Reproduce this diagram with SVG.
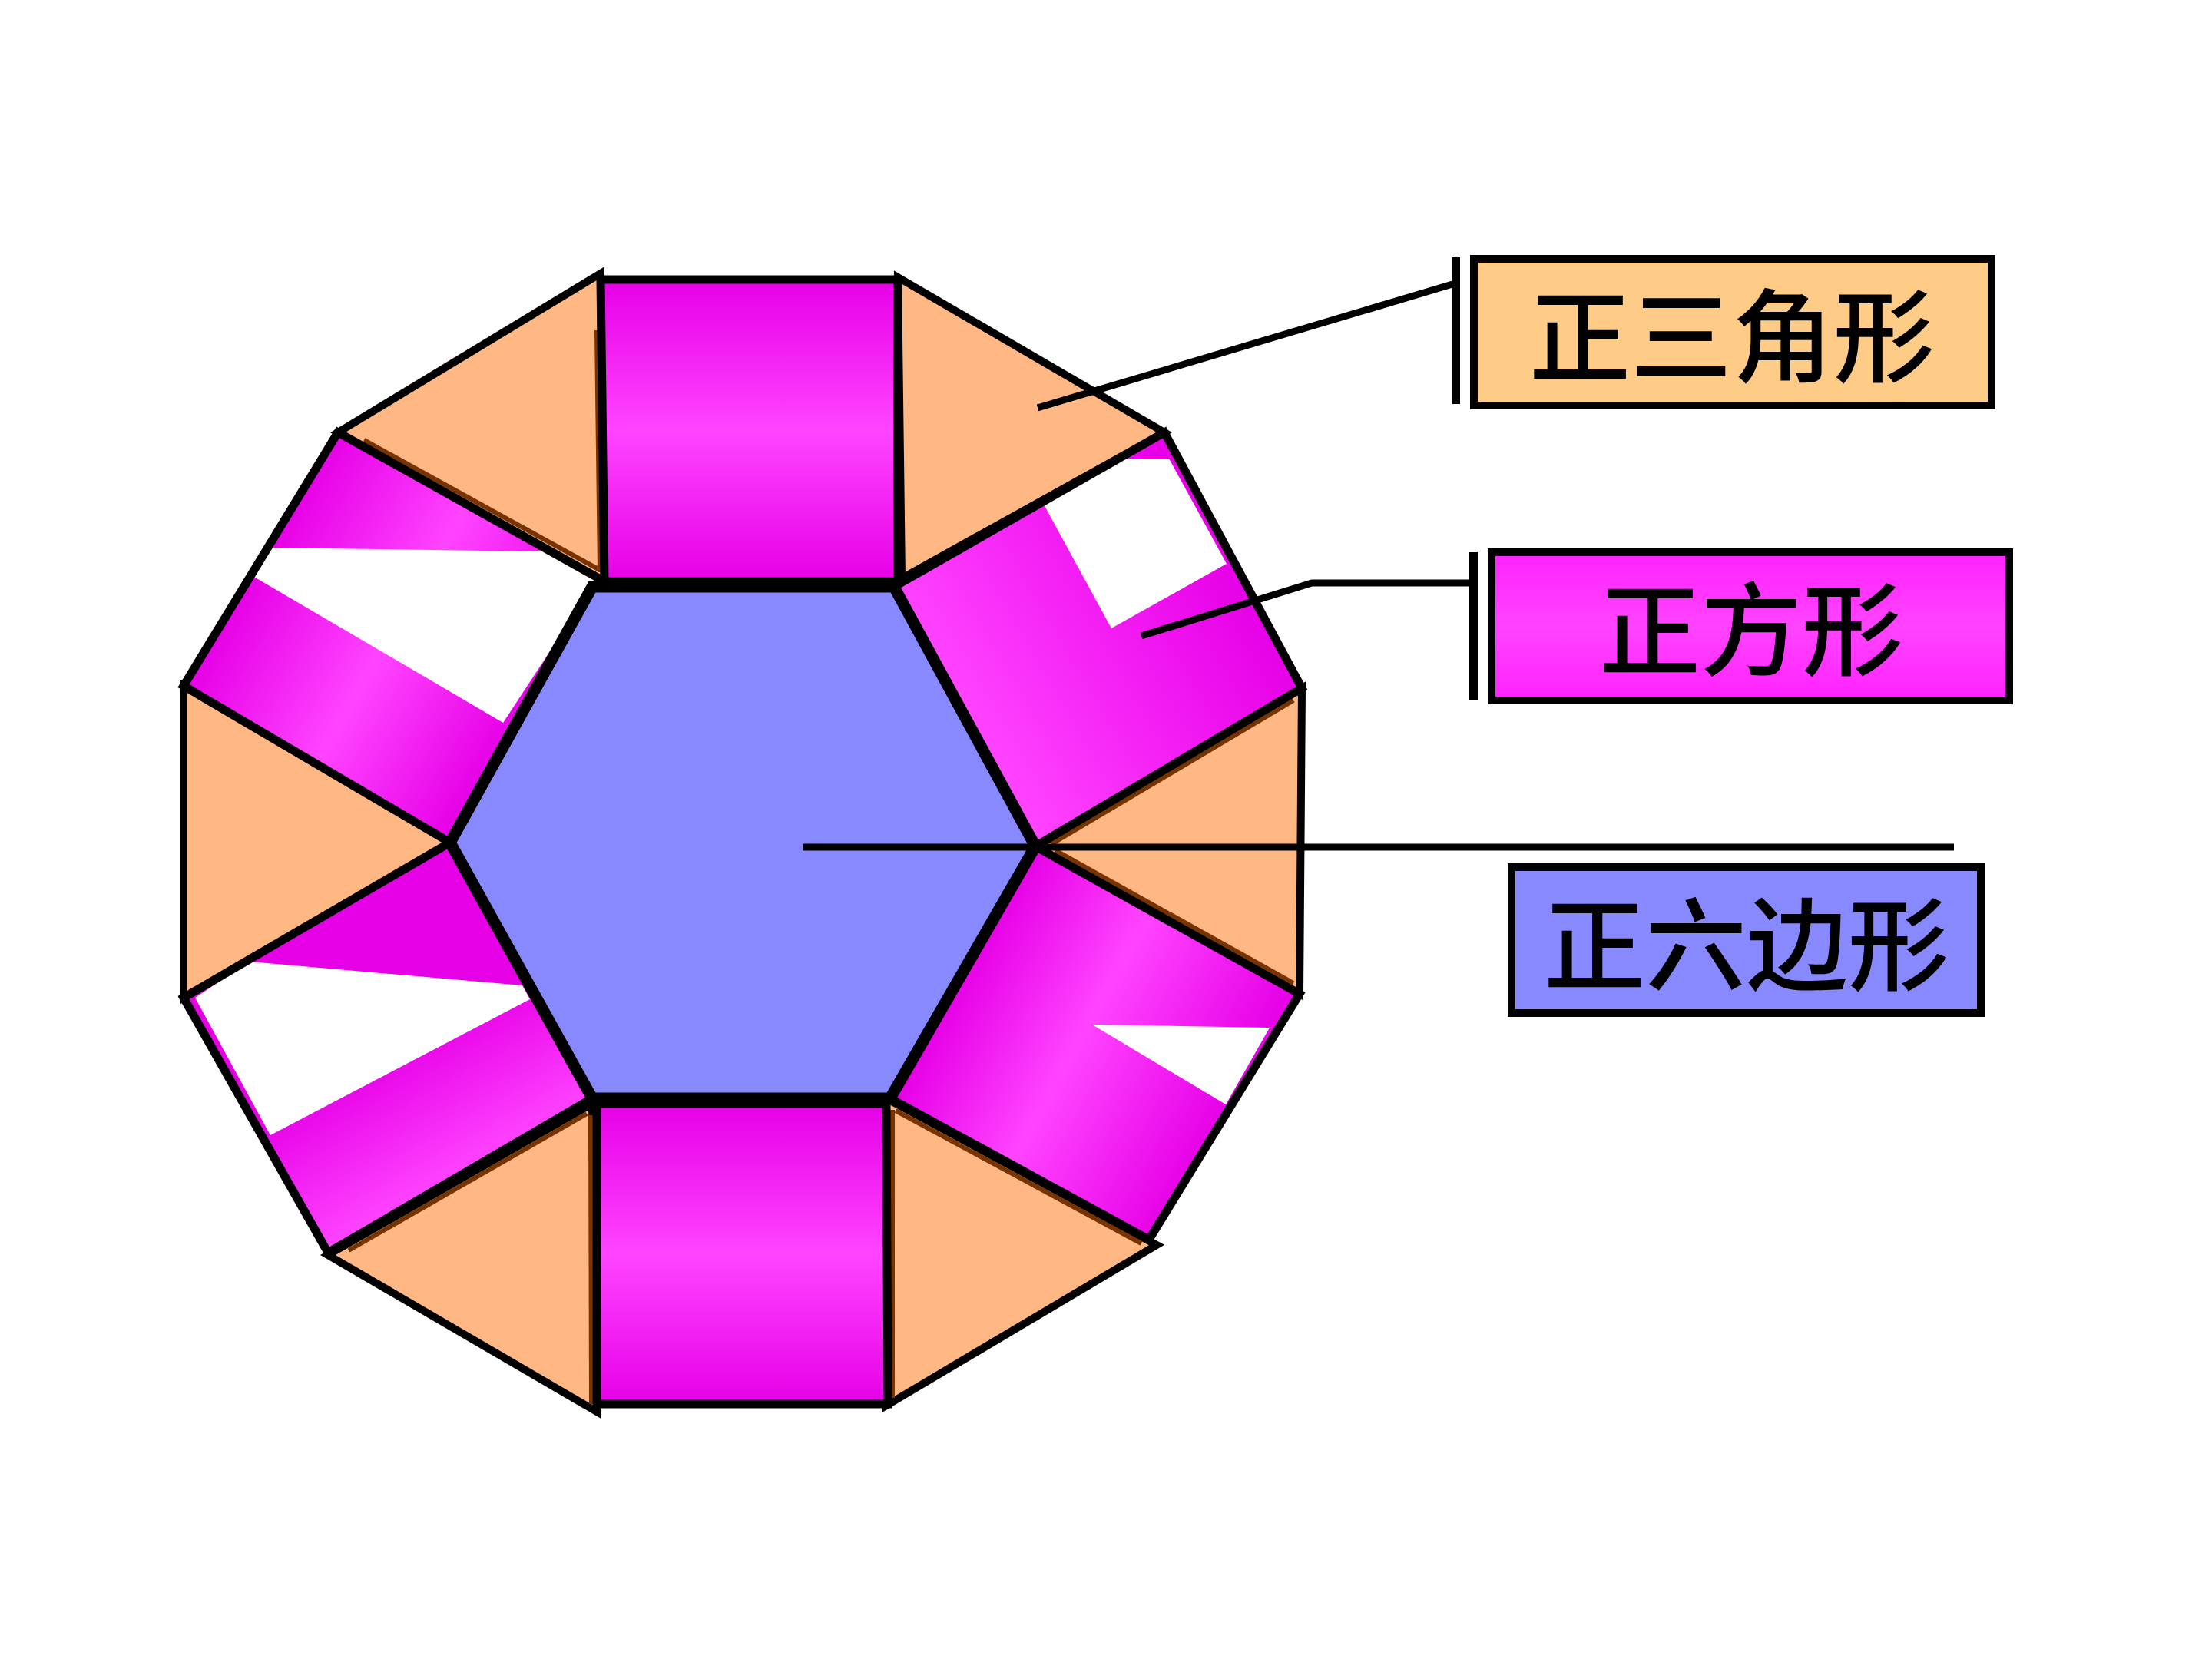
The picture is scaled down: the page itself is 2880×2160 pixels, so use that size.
<svg xmlns="http://www.w3.org/2000/svg" width="2880" height="2160" viewBox="0 0 2880 2160">
<style>
.tri{fill:#FFB784;stroke:#000;stroke-width:10;stroke-linejoin:miter}
.sq{stroke:#000;stroke-width:11;stroke-linejoin:miter}
.wh{fill:#FFFFFF}
.hex{fill:#8888FF;stroke:#000;stroke-width:15;stroke-linejoin:miter}
.br{stroke:#773300;stroke-width:6;fill:none}
.ld{stroke:#000;stroke-width:9;fill:none}
.bar{fill:#000}
.box{stroke:#000;stroke-width:10}
.lbl{font-family:"Noto Sans CJK SC","Noto Sans CJK JP",sans-serif;font-size:132px;font-weight:500;fill:#000;text-anchor:middle}
</style>
<defs>
<linearGradient id="gV" x1="0" y1="0" x2="0" y2="1">
<stop offset="0" stop-color="#E600E6"/><stop offset="0.5" stop-color="#FF44FF"/><stop offset="1" stop-color="#E600E6"/>
</linearGradient>
<linearGradient id="gTL" gradientUnits="userSpaceOnUse" x1="337" y1="729" x2="678" y2="930">
<stop offset="0" stop-color="#E600E6"/><stop offset="0.5" stop-color="#FF44FF"/><stop offset="1" stop-color="#E600E6"/>
</linearGradient>
<linearGradient id="gTR" gradientUnits="userSpaceOnUse" x1="1256" y1="933" x2="1605" y2="729">
<stop offset="0" stop-color="#FF44FF"/><stop offset="0.5" stop-color="#F420F4"/><stop offset="1" stop-color="#E600E6"/>
</linearGradient>
<linearGradient id="gBR" gradientUnits="userSpaceOnUse" x1="1253" y1="1266" x2="1594" y2="1454">
<stop offset="0" stop-color="#E600E6"/><stop offset="0.45" stop-color="#FF44FF"/><stop offset="1" stop-color="#E600E6"/>
</linearGradient>
<linearGradient id="gBL" gradientUnits="userSpaceOnUse" x1="412" y1="1198" x2="599" y2="1530">
<stop offset="0" stop-color="#E600E6"/><stop offset="0.5" stop-color="#E600E6"/><stop offset="1" stop-color="#FF44FF"/>
</linearGradient>
<linearGradient id="gBox" x1="0" y1="0" x2="0" y2="1">
<stop offset="0" stop-color="#FF22FF"/><stop offset="0.5" stop-color="#FF44FF"/><stop offset="1" stop-color="#FF22FF"/>
</linearGradient>
</defs>
<rect width="2880" height="2160" fill="#FFFFFF"/>

<g id="triangle-top-left">
<polygon class="tri" points="782,356 440,563 787,757"/>
<line class="br" x1="474" y1="573" x2="779" y2="741"/>
<line class="br" x1="777" y1="430" x2="781" y2="745"/>
</g>
<g id="triangle-top-right">
<polygon class="tri" points="1169,361 1516,563 1174,753"/>
</g>
<g id="triangle-left">
<polygon class="tri" points="239,893 239,1299 586,1097"/>
</g>
<g id="triangle-right">
<polygon class="tri" points="1695,896 1692,1294 1348,1102"/>
<line class="br" x1="1369" y1="1099" x2="1684" y2="912"/>
<line class="br" x1="1374" y1="1107" x2="1684" y2="1280"/>
</g>
<g id="triangle-bottom-left">
<polygon class="tri" points="771,1437 427,1634 777,1838"/>
<line class="br" x1="764" y1="1450" x2="454" y2="1628"/>
<line class="br" x1="769" y1="1452" x2="770" y2="1828"/>
</g>
<g id="triangle-bottom-right">
<polygon class="tri" points="1154,1430 1506,1621 1154,1830"/>
<line class="br" x1="1166" y1="1446" x2="1486" y2="1619"/>
<line class="br" x1="1162" y1="1445" x2="1162" y2="1820"/>
</g>

<g id="square-top">
<polygon class="sq" fill="url(#gV)" points="782,364 1169,364 1169,757 787,757"/>
</g>
<g id="square-bottom">
<polygon class="sq" fill="url(#gV)" points="777,1437 1154,1437 1156,1828 777,1828"/>
</g>
<g id="square-top-left">
<polygon fill="url(#gTL)" points="787,757 771,764 586,1097 239,893 440,563"/>
<polygon class="wh" points="352,713 700,718 709,713 787,757 771,764 655,941 329,750"/>
<polygon class="sq" fill="none" points="787,757 771,764 586,1097 239,893 440,563"/>
</g>
<g id="square-top-right">
<polygon fill="url(#gTR)" points="1164,764 1348,1102 1695,896 1516,563"/>
<polygon class="wh" points="1358,655 1465,597 1522,597 1597,734 1447,818"/>
<polygon class="sq" fill="none" points="1164,764 1348,1102 1695,896 1516,563"/>
</g>
<g id="square-bottom-right">
<polygon fill="url(#gBR)" points="1348,1102 1159,1430 1496,1614 1692,1294"/>
<polygon class="wh" points="1422,1334 1653,1338 1596,1438"/>
<polygon class="sq" fill="none" points="1348,1102 1159,1430 1496,1614 1692,1294"/>
</g>
<g id="square-bottom-left">
<polygon fill="url(#gBL)" points="586,1097 771,1430 427,1631 239,1299"/>
<polygon class="wh" points="254,1299 325,1252 680,1283 690,1301 352,1478"/>
<polygon class="sq" fill="none" points="586,1097 771,1430 427,1631 239,1299"/>
</g>

<g id="hexagon">
<polygon class="hex" points="771,764 1164,764 1348,1102 1159,1430 771,1430 586,1097"/>
</g>

<g id="connectors">
<polyline class="ld" points="1351,531 1891,370"/>
<polyline class="ld" points="1486,828 1708,759 1919,759"/>
<line class="ld" x1="1045" y1="1103" x2="2544" y2="1103"/>
<rect class="bar" x="1891" y="335" width="10" height="191"/>
<rect class="bar" x="1912" y="719" width="12" height="193"/>
</g>

<g id="label-triangle">
<rect class="box" x="1919" y="337" width="674" height="191" fill="#FFCC88"/>
<text class="lbl" x="2255" y="487">正三角形</text>
</g>
<g id="label-square">
<rect class="box" x="1942" y="719" width="674" height="193" fill="url(#gBox)"/>
<text class="lbl" x="2280" y="869">正方形</text>
</g>
<g id="label-hexagon">
<rect class="box" x="1968" y="1129" width="611" height="190" fill="#8888FF"/>
<text class="lbl" x="2274" y="1279">正六边形</text>
</g>
</svg>
